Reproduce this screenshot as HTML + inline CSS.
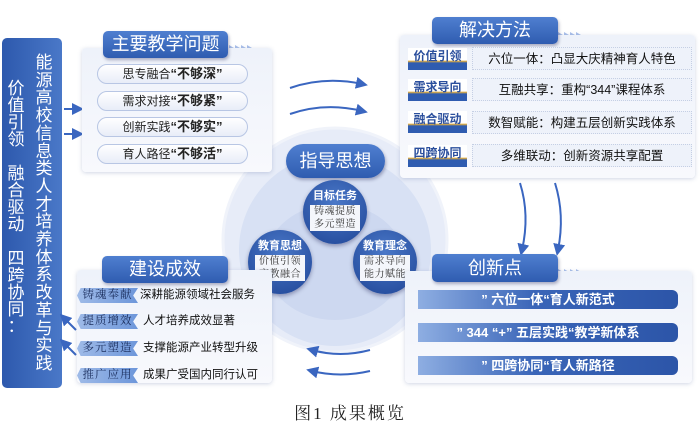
<!DOCTYPE html>
<html><head><meta charset="utf-8"><style>
*{margin:0;padding:0;box-sizing:border-box}
body{width:700px;height:423px;background:#fff;position:relative;overflow:hidden;font-family:"Liberation Sans","Noto Sans CJK SC",sans-serif}
.a{position:absolute}
.title{position:absolute;background:linear-gradient(#4f7fd0,#2f5cb0);color:#fff;border-radius:5px;text-align:center;font-size:18px;line-height:27px;box-shadow:1px 2px 3px rgba(0,0,60,.3)}
.panel{position:absolute;background:linear-gradient(#eef2fa,#f8f9fd);border-radius:4px;box-shadow:0 1px 4px rgba(100,120,170,.3)}
.pill{position:absolute;left:97px;width:151px;height:20px;border:1px solid #b8c6e4;border-radius:10px;background:linear-gradient(#fff,#e8edf8);font-size:12px;line-height:18px;text-align:center;color:#222}
.pill b{font-size:13px}
.lab{position:absolute;left:408px;width:59px;height:22px;background:linear-gradient(#fff 0,#fff 55%,#e5b040 60%,#2f5cb0 68%);color:#2b4f9d;font-weight:bold;font-size:12px;line-height:16px;text-align:center}
.txt{position:absolute;left:472px;width:220px;height:23px;border:1px dotted #c5cfe4;background:#eef2fa;font-size:12.5px;line-height:22px;text-align:center;color:#111}
.rib{position:absolute;left:77px;width:61px;height:15px;background:linear-gradient(90deg,#9fbbe8,#6d96da);clip-path:polygon(6% 0,100% 0,92% 50%,100% 100%,6% 100%,0 50%);font-family:"Liberation Serif","Noto Serif CJK SC",serif;font-size:11.5px;line-height:15px;text-align:center;color:#1c2f5e;letter-spacing:1px}
.rt{position:absolute;left:143px;font-size:11.5px;color:#111;line-height:15px}
.bar{position:absolute;left:418px;width:260px;height:19px;background:linear-gradient(90deg,#8eaee2,#3a65b8 45%,#2c55a8);border-radius:0 6px 6px 0;color:#fff;font-weight:bold;font-size:13px;line-height:19px;text-align:center}
.circ{position:absolute;width:64px;height:64px;border-radius:50%;background:radial-gradient(circle at 50% 35%,#4a78c8,#1f4596);color:#fff;text-align:center;box-shadow:0 2px 4px rgba(0,0,60,.35)}
.circ b{display:block;font-size:11px;margin-top:10px;line-height:13px}
.circ span{display:block;margin:2px auto 0;width:50px;background:#f4f6fb;color:#333;font-family:"Liberation Serif","Noto Serif CJK SC",serif;font-size:10px;line-height:13px;letter-spacing:.5px;white-space:nowrap}
</style></head><body>

<div class="a" style="left:2px;top:38px;width:60px;height:350px;background:linear-gradient(90deg,#2d59ad,#4a78c8);border-radius:5px"></div>
<div class="a" style="left:6px;top:80px;width:20px;color:#fff;font-size:17px;line-height:17px;text-align:center">价<br>值<br>引<br>领<br><br>融<br>合<br>驱<br>动<br><br>四<br>跨<br>协<br>同<br>：</div>
<div class="a" style="left:32px;top:54px;width:24px;color:#fff;font-size:17px;line-height:17.7px;text-align:center">能<br>源<br>高<br>校<br>信<br>息<br>类<br>人<br>才<br>培<br>养<br>体<br>系<br>改<br>革<br>与<br>实<br>践</div>

<svg class="a" style="left:0;top:0" width="700" height="423">
<defs><marker id="m" markerWidth="6" markerHeight="6" refX="3" refY="3" orient="auto"><path d="M0,0L6,3L0,6z" fill="#3a66c0"/></marker></defs>
<circle cx="335" cy="240" r="112" fill="#e7ecf8" stroke="#f0f3fa" stroke-width="3"/>
<circle cx="335" cy="250" r="96" fill="#d8e1f4"/>
<ellipse cx="335" cy="262" rx="70" ry="58" fill="#cdd8f0"/>
<g fill="none" stroke="#3a66c0" stroke-width="2" marker-end="url(#m)">
<path d="M64,109H78"/><path d="M64,134H78"/>
<path d="M290,88Q325,76 362,84"/><path d="M290,114Q325,102 362,111"/>
<path d="M520,183Q530,215 522,250"/><path d="M555,183Q565,215 558,250"/>
<path d="M370,350Q340,358 312,350"/><path d="M370,371Q340,378 312,371"/>
<path d="M76,330L64,318"/><path d="M76,355L64,343"/>
</g>
<g fill="#aac0ea"><path d="M229,45l5,3l-5,3z M235,45l5,3l-5,3z M241,45l5,3l-5,3z M247,45l5,3l-5,3z"/>
<path d="M558,32l5,3l-5,3z M564,32l5,3l-5,3z M570,32l5,3l-5,3z M576,32l5,3l-5,3z"/>
<path d="M558,269l5,3l-5,3z M564,269l5,3l-5,3z M570,269l5,3l-5,3z M576,269l5,3l-5,3z"/>
<path d="M229,273l5,3l-5,3z M235,273l5,3l-5,3z M241,273l5,3l-5,3z"/></g>
</svg>

<div class="panel" style="left:82px;top:48px;width:190px;height:124px"></div>
<div class="title" style="left:103px;top:31px;width:125px">主要教学问题</div>
<div class="pill" style="top:64px">思专融合<b>“不够深”</b></div>
<div class="pill" style="top:91px">需求对接<b>“不够紧”</b></div>
<div class="pill" style="top:117px">创新实践<b>“不够实”</b></div>
<div class="pill" style="top:144px">育人路径<b>“不够活”</b></div>

<div class="panel" style="left:400px;top:35px;width:295px;height:143px"></div>
<div class="title" style="left:432px;top:17px;width:126px">解决方法</div>
<div class="lab" style="top:48px">价值引领</div><div class="txt" style="top:47px">六位一体：凸显大庆精神育人特色</div>
<div class="lab" style="top:79px">需求导向</div><div class="txt" style="top:78px">互融共享：重构“344”课程体系</div>
<div class="lab" style="top:111px">融合驱动</div><div class="txt" style="top:111px">数智赋能：构建五层创新实践体系</div>
<div class="lab" style="top:145px">四跨协同</div><div class="txt" style="top:144px">多维联动：创新资源共享配置</div>

<div class="title" style="left:286px;top:144px;width:99px;height:34px;line-height:34px;border-radius:17px;font-size:18px">指导思想</div>
<div class="circ" style="left:303px;top:180px"><b>目标任务</b><span>铸魂提质<br>多元塑造</span></div>
<div class="circ" style="left:248px;top:230px"><b>教育思想</b><span>价值引领<br>产教融合</span></div>
<div class="circ" style="left:353px;top:230px"><b>教育理念</b><span>需求导向<br>能力赋能</span></div>

<div class="panel" style="left:77px;top:270px;width:195px;height:113px"></div>
<div class="title" style="left:102px;top:256px;width:126px">建设成效</div>
<div class="rib" style="top:288px">铸魂奉献</div><div class="rt" style="top:288px;left:140px">深耕能源领域社会服务</div>
<div class="rib" style="top:314px">提质增效</div><div class="rt" style="top:314px">人才培养成效显著</div>
<div class="rib" style="top:341px">多元塑造</div><div class="rt" style="top:341px">支撑能源产业转型升级</div>
<div class="rib" style="top:368px">推广应用</div><div class="rt" style="top:368px">成果广受国内同行认可</div>

<div class="panel" style="left:405px;top:271px;width:287px;height:112px"></div>
<div class="title" style="left:432px;top:254px;width:126px;height:28px;line-height:28px">创新点</div>
<div class="bar" style="top:290px">” 六位一体“育人新范式</div>
<div class="bar" style="top:323px">” 344 “+” 五层实践“教学新体系</div>
<div class="bar" style="top:356px">” 四跨协同“育人新路径</div>

<div class="a" style="left:280px;top:399px;width:140px;text-align:center;font-family:'Liberation Serif','Noto Serif CJK SC',serif;font-size:17px;letter-spacing:2px;color:#222">图1 成果概览</div>
</body></html>
